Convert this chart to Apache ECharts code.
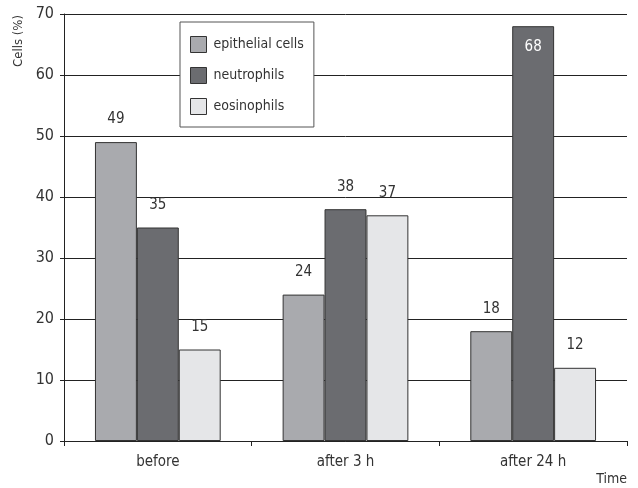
<!DOCTYPE html>
<html>
<head>
<meta charset="utf-8">
<script src="https://cdn.jsdelivr.net/npm/echarts@6/dist/echarts.min.js"></script>
<style>
  html, body { margin: 0; padding: 0; background: #fff; }
  #chart { width: 638px; height: 488px; }
</style>
</head>
<body>
<div id="chart"></div>
<script>
// Cell counts at each time point
const categories = ['before', 'after 3 h', 'after 24 h'];
const epithelial = [49, 24, 18];
const neutrophils = [35, 38, 68];
const eosinophils = [15, 37, 12];
const yTicks = [0, 10, 20, 30, 40, 50, 60, 70];

const FONT = '"Liberation Sans Narrow", "DejaVu Sans Condensed", "Liberation Sans", sans-serif';
const chart = echarts.init(document.getElementById('chart'));

function barSeries(name, data, color) {
  return {
    name: name,
    type: 'bar',
    data: data.map(v => {
      const inside = v > 60;
      return {
        value: v,
        label: inside
          ? { position: 'insideTop', color: '#ffffff', distance: 13 }
          : { position: 'top', color: '#333333', distance: 15 }
      };
    }),
    barGap: '0%',
    barCategoryGap: '33%',
    itemStyle: { color: color, borderColor: '#333333', borderWidth: 1 },
    label: { show: true, fontFamily: FONT, fontSize: 15 }
  };
}

chart.setOption({
  animation: false,
  backgroundColor: '#ffffff',
  textStyle: { fontFamily: FONT },
  grid: { left: 64, right: 11, top: 14, bottom: 47 },
  legend: {
    orient: 'vertical',
    left: 180,
    top: 22,
    width: 133,
    padding: [14, 10, 12, 10],
    itemGap: 14,
    itemWidth: 16,
    itemHeight: 16,
    backgroundColor: '#ffffff',
    borderColor: '#555555',
    borderWidth: 1,
    icon: 'rect',
    textStyle: { fontFamily: FONT, fontSize: 14, color: '#333333', padding: [0, 0, 0, 2] },
    itemStyle: { borderColor: '#333333', borderWidth: 1 },
    data: ['epithelial cells', 'neutrophils', 'eosinophils']
  },
  xAxis: {
    type: 'category',
    data: categories,
    name: 'Time',
    nameLocation: 'end',
    nameGap: 0,
    nameTextStyle: {
      fontFamily: FONT, fontSize: 14, color: '#333333',
      align: 'right', verticalAlign: 'top', padding: [31, 0, 0, 0]
    },
    axisLine: { lineStyle: { color: '#222222', width: 1 } },
    axisTick: { show: true, length: 5, lineStyle: { color: '#222222' } },
    axisLabel: { fontFamily: FONT, fontSize: 15, color: '#333333', margin: 14 }
  },
  yAxis: {
    type: 'value',
    min: yTicks[0],
    max: yTicks[yTicks.length - 1],
    interval: 10,
    axisLine: { show: true, lineStyle: { color: '#222222', width: 1 } },
    axisTick: { show: true, length: 4, lineStyle: { color: '#222222' } },
    axisLabel: { fontFamily: FONT, fontSize: 16, color: '#333333', margin: 10 },
    splitLine: { show: true, lineStyle: { color: '#222222', width: 1 } }
  },
  graphic: [{
    type: 'text',
    left: 12,
    top: 15,
    rotation: Math.PI / 2,
    style: {
      text: 'Cells (%)',
      fontFamily: FONT,
      fontSize: 13,
      fill: '#333333'
    }
  }],
  series: [
    barSeries('epithelial cells', epithelial, '#a9aaae'),
    barSeries('neutrophils', neutrophils, '#6b6c70'),
    barSeries('eosinophils', eosinophils, '#e5e6e8')
  ]
});
</script>
</body>
</html>
